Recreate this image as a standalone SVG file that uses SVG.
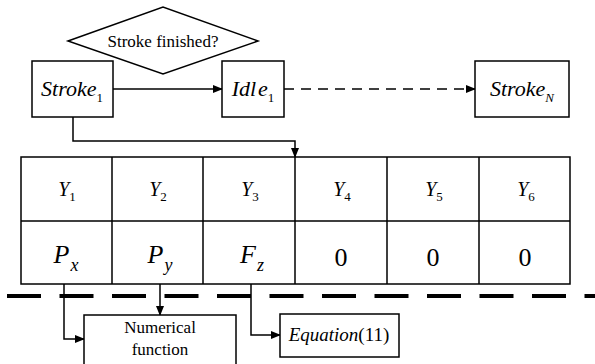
<svg xmlns="http://www.w3.org/2000/svg" width="595" height="364" viewBox="0 0 595 364">
<defs>
<marker id="ah" markerWidth="10" markerHeight="8" refX="9" refY="4" orient="auto" markerUnits="userSpaceOnUse">
<path d="M0,0 L10,4 L0,8 Z" fill="#000"/>
</marker>
<style>
.box{fill:#fff;stroke:#000;stroke-width:1.5}
.ln{fill:none;stroke:#000;stroke-width:1.5}
text{font-family:"Liberation Serif","DejaVu Serif","Times New Roman",serif;fill:#000}
.i{font-style:italic}
.sub{font-size:13px}
</style>
</defs>
<rect width="595" height="364" fill="#fff"/>
<g id="connectors">
<path class="ln" d="M113,89 H222" marker-end="url(#ah)"/>
<path class="ln" d="M284,89 H475" stroke-dasharray="10,7" marker-end="url(#ah)"/>
<path class="ln" d="M73,117 V141 H295 V157" marker-end="url(#ah)"/>
<path class="ln" d="M64,284 V339 H84" marker-end="url(#ah)"/>
<path class="ln" d="M160,284 V315" marker-end="url(#ah)"/>
<path class="ln" d="M251,284 V335 H280" marker-end="url(#ah)"/>
<path fill="none" stroke="#000" stroke-width="4" d="M7,296 H595" stroke-dasharray="34,18.5"/>
</g>
<g id="decision">
<polygon class="box" points="68,41 163,7 258,41 163,74"/>
<text x="163" y="47" font-size="17" text-anchor="middle">Stroke finished?</text>
</g>
<g id="stroke1">
<rect class="box" x="32" y="61" width="81" height="56"/>
<text x="72" y="96" font-size="22" text-anchor="middle"><tspan class="i">Stroke</tspan><tspan class="sub" dy="6">1</tspan></text>
</g>
<g id="idle1">
<rect class="box" x="222" y="61" width="62" height="56"/>
<text x="253" y="96" font-size="22" text-anchor="middle"><tspan class="i">Idl</tspan><tspan class="i" dx="2">e</tspan><tspan class="sub" dy="6">1</tspan></text>
</g>
<g id="strokeN">
<rect class="box" x="475" y="61" width="94" height="56"/>
<text x="522" y="96" font-size="22" text-anchor="middle"><tspan class="i">Stroke</tspan><tspan class="sub i" dy="6">N</tspan></text>
</g>
<g id="table">
<rect class="box" x="21" y="157" width="549" height="127"/>
<path class="ln" d="M21,221 H570 M112,157 V284 M203,157 V284 M295,157 V284 M387,157 V284 M479,157 V284"/>
<text x="67" y="196" font-size="20" text-anchor="middle"><tspan class="i">Y</tspan><tspan class="sub" dy="5">1</tspan></text>
<text x="158" y="196" font-size="20" text-anchor="middle"><tspan class="i">Y</tspan><tspan class="sub" dy="5">2</tspan></text>
<text x="250" y="196" font-size="20" text-anchor="middle"><tspan class="i">Y</tspan><tspan class="sub" dy="5">3</tspan></text>
<text x="342" y="196" font-size="20" text-anchor="middle"><tspan class="i">Y</tspan><tspan class="sub" dy="5">4</tspan></text>
<text x="434" y="196" font-size="20" text-anchor="middle"><tspan class="i">Y</tspan><tspan class="sub" dy="5">5</tspan></text>
<text x="526" y="196" font-size="20" text-anchor="middle"><tspan class="i">Y</tspan><tspan class="sub" dy="5">6</tspan></text>
<text x="66" y="263" font-size="26" text-anchor="middle"><tspan class="i">P</tspan><tspan class="i" font-size="18" dy="8" dx="1">x</tspan></text>
<text x="160" y="263" font-size="26" text-anchor="middle"><tspan class="i">P</tspan><tspan class="i" font-size="18" dy="8" dx="1">y</tspan></text>
<text x="252" y="263" font-size="26" text-anchor="middle"><tspan class="i">F</tspan><tspan class="i" font-size="18" dy="8" dx="1">z</tspan></text>
<text x="341" y="266" font-size="26" text-anchor="middle">0</text>
<text x="433" y="266" font-size="26" text-anchor="middle">0</text>
<text x="525" y="266" font-size="26" text-anchor="middle">0</text>
</g>
<g id="numerical">
<rect class="box" x="84" y="315" width="152" height="55"/>
<text x="160" y="333" font-size="17" text-anchor="middle">Numerical</text>
<text x="160" y="355" font-size="17" text-anchor="middle">function</text>
</g>
<g id="equation">
<rect class="box" x="280" y="314" width="119" height="43"/>
<text x="339" y="341" font-size="19" text-anchor="middle"><tspan class="i">Equation</tspan>(11)</text>
</g>
</svg>
